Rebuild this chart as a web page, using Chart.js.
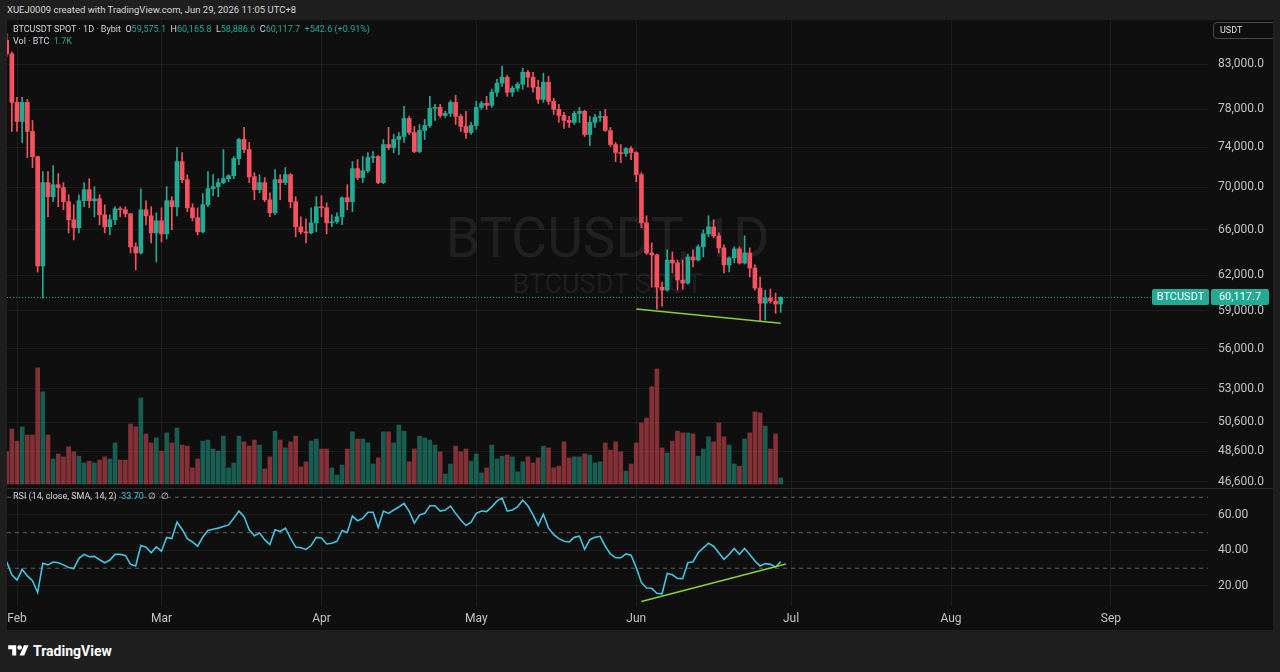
<!DOCTYPE html>
<html>
<head>
<meta charset="utf-8">
<script src="https://cdn.jsdelivr.net/npm/chart.js@4.4.1/dist/chart.umd.min.js"></script>
<style>
  body { margin:0; width:1280px; height:672px; background:#1f1f1f; overflow:hidden; position:relative; font-family:Roboto, "Noto Sans", sans-serif; }
  #hdr { position:absolute; left:7px; top:4px; font-size:9.5px; line-height:12px; color:#d8d8d8; white-space:nowrap; }
  #frame { position:absolute; left:7px; top:20px; width:1266px; height:610px; background:#0f0f0f; overflow:hidden; }
  #main { position:absolute; left:0; top:0; }
  #rsi { position:absolute; left:0; top:468px; }
  #sep { position:absolute; left:0; top:468px; width:1266px; height:1px; background:#2a2a2a; }
  .wm { position:absolute; left:0; width:1201px; text-align:center; color:rgba(255,255,255,0.075); white-space:nowrap; }
  .lg { position:absolute; left:6px; font-size:9px; line-height:12px; color:#d1d4dc; white-space:nowrap; }
  .up { color:#22ab94; }
  #unit { position:absolute; left:1206px; top:2px; width:55px; height:15px; border:1px solid #4a4a4a; border-radius:4px; font-size:9px; line-height:15px; color:#e0e0e0; padding-left:6px; box-sizing:content-box; }
  #logo { position:absolute; left:8px; top:643px; height:16px; display:flex; align-items:center; gap:4px; color:#fff; font-weight:700; font-size:14px; }
</style>
</head>
<body>
<div id="hdr">XUEJ0009 created with TradingView.com, Jun 29, 2026 11:05 UTC+8</div>
<div id="frame">
  <div class="wm" style="top:188px;font-size:55px;line-height:60px;">BTCUSDT, 1D</div>
  <div class="wm" style="top:249px;font-size:27px;line-height:30px;">BTCUSDT SPOT</div>
  <canvas id="main" width="1266" height="468"></canvas>
  <canvas id="rsi" width="1266" height="142"></canvas>
  <div id="sep"></div>
  <div class="lg" id="lg1" style="top:3px"></div>
  <div class="lg" id="lg2" style="top:15px"></div>
  <div class="lg" id="lg3" style="top:470px"></div>
  <div id="unit">USDT</div>
</div>
<div id="logo">
  <svg width="21" height="16" viewBox="0 0 36 28"><path d="M14 22H7V11H0V4h14v18z" fill="#fff"/><circle cx="20" cy="8" r="4" fill="#fff"/><path d="M28 22h-8l7.5-18h8L28 22z" fill="#fff"/></svg>
  <span>TradingView</span>
</div>
<script>
// daily candles, first bar on Jan 30
const firstDate = '2026-01-30';
const opens = [
  85800, 84200, 78730, 76680, 78730, 75630, 73040, 62790, 70460, 69100,
  70260, 69970, 68620, 66930, 66190, 68720, 69780, 68720, 68900, 67400,
  66280, 66930, 67960, 67870, 67490, 64470, 63930, 67860, 67300, 65730,
  66840, 65640, 68720, 68150, 72540, 70750, 68050, 67120, 65820, 68340,
  69870, 70070, 70460, 70850, 71140, 72840, 74790, 73760, 71040, 69780,
  70460, 68810, 67580, 70750, 70460, 71240, 68620, 66280, 65820, 65730,
  66650, 68150, 68050, 66650, 66750, 67210, 69000, 68620, 71840, 70950,
  71640, 72940, 73050, 70460, 74270, 73960, 74790, 75100, 77000, 75520,
  73550, 75730, 76260, 78080, 78190, 77320, 77540, 78730, 77220, 76150,
  75520, 76260, 78190, 78620, 78410, 79840, 80840, 81520, 79840, 80280,
  80730, 82080, 81520, 80390, 79060, 80950, 78840, 77970, 77320, 76790,
  76580, 77540, 77760, 75310, 76580, 77110, 77220, 75730, 74270, 73450,
  73350, 73860, 73450, 71240, 66650, 63930, 63760, 60980, 60730, 63310,
  63050, 61580, 61320, 63580, 63310, 64470, 65640, 66280, 65460, 64380,
  62880, 63490, 64290, 63050, 63930, 62610, 60900, 59640, 60060, 59810,
  59575.1
];
const highs = [
  86600, 84400, 79280, 79280, 79060, 76790, 73100, 71540, 71540, 72140,
  71340, 70460, 69290, 68340, 69290, 70460, 70850, 70070, 69290, 68340,
  67400, 68150, 68150, 68150, 67490, 64820, 69870, 68720, 68150, 67580,
  68050, 70070, 69100, 73960, 73450, 71240, 68430, 68050, 69390, 71540,
  71240, 70850, 73760, 71240, 73050, 74900, 76050, 74480, 71440, 71240,
  70950, 69480, 71740, 71240, 71940, 71340, 69100, 67210, 67020, 68050,
  69100, 69200, 68530, 67400, 67580, 69100, 70260, 72540, 72740, 73050,
  73450, 73550, 73150, 74790, 76050, 75310, 75520, 78300, 77220, 76150,
  76360, 76900, 79390, 78520, 78520, 77760, 78950, 79500, 77430, 77760,
  76580, 78840, 78840, 79390, 80170, 81290, 82770, 81740, 80500, 80950,
  82540, 82310, 82080, 81180, 81970, 81630, 79170, 78520, 77650, 77220,
  77760, 78190, 77860, 77220, 77430, 77760, 77970, 76050, 74480, 74270,
  73960, 74070, 73550, 71440, 67300, 64820, 63840, 61410, 64200, 64020,
  63310, 63310, 63840, 64200, 64650, 66010, 67300, 66930, 65730, 64650,
  63580, 64470, 64470, 65460, 64380, 62880, 61840, 60730, 60810, 60480,
  60165.8
];
const lows = [
  83900, 75630, 75630, 74480, 72940, 71940, 62270, 60060, 67210, 68620,
  68150, 67860, 65730, 65100, 65730, 68150, 68050, 67210, 66470, 65730,
  65550, 66470, 67210, 67210, 63930, 62440, 63840, 66470, 64820, 63140,
  64910, 65190, 66010, 67300, 70460, 67680, 66840, 65550, 65730, 68150,
  69200, 69100, 70360, 70550, 70850, 72240, 73450, 70460, 68810, 69480,
  68620, 67210, 67400, 68810, 70260, 68050, 65370, 65640, 64820, 65640,
  65820, 67210, 65640, 66280, 66600, 66470, 67860, 67680, 70750, 70460,
  71440, 72440, 70360, 70360, 73760, 73450, 73250, 74480, 75310, 73450,
  73450, 74790, 76050, 76790, 77110, 77110, 77220, 76360, 75630, 74890,
  75310, 75840, 77970, 77970, 78190, 79390, 80500, 79390, 79390, 79950,
  80170, 80390, 79840, 78620, 78730, 78520, 77430, 76580, 75940, 76050,
  76360, 76580, 75100, 74170, 76050, 76690, 75630, 74070, 72540, 72440,
  73050, 72740, 70550, 66190, 63800, 60980, 59150, 59400, 60650, 62180,
  60730, 60810, 61230, 62700, 63220, 63580, 65370, 65280, 63930, 62180,
  62270, 63050, 62960, 62960, 61840, 60730, 58170, 58260, 59640, 58820,
  58886.6
];
const closes = [
  84200, 78730, 76680, 78730, 75630, 73040, 62790, 70460, 69100, 70260,
  69970, 68620, 66930, 66190, 68720, 69780, 68720, 68900, 67400, 66280,
  66930, 67960, 67870, 67490, 64470, 63930, 67860, 67300, 65730, 66840,
  65640, 68720, 68150, 72540, 70750, 68050, 67120, 65820, 68340, 69870,
  70070, 70460, 70850, 71140, 72840, 74790, 73760, 71040, 69780, 70460,
  68810, 67580, 70750, 70460, 71240, 68620, 66280, 65820, 65730, 66650,
  68150, 68050, 66650, 66750, 67210, 69000, 68620, 71840, 70950, 71640,
  72940, 73050, 70460, 74270, 73960, 74790, 75100, 77000, 75520, 73550,
  75730, 76260, 78080, 78190, 77320, 77540, 78730, 77220, 76150, 75520,
  76260, 78190, 78620, 78410, 79840, 80840, 81520, 79840, 80280, 80730,
  82080, 81520, 80390, 79060, 80950, 78840, 77970, 77320, 76790, 76580,
  77540, 77760, 75310, 76580, 77110, 77220, 75730, 74270, 73450, 73350,
  73860, 73450, 71240, 66650, 63930, 63760, 60980, 60730, 63310, 63050,
  61580, 61320, 63580, 63310, 64470, 65640, 66280, 65460, 64380, 62880,
  63490, 64290, 63050, 63930, 62610, 60900, 59640, 60060, 59810, 59575.1,
  60117.7
];
// volume in thousand BTC
const volumes = [
  9.0, 15.4, 12.0, 16.0, 13.7, 13.7, 32.5, 25.8, 13.7, 7.0,
  8.4, 7.6, 10.4, 9.0, 7.8, 5.9, 6.4, 5.9, 6.7, 7.6,
  7.0, 11.5, 6.7, 6.7, 16.8, 16.0, 24.1, 14.0, 11.5, 12.9,
  9.2, 14.3, 11.5, 15.7, 10.9, 10.6, 4.5, 7.0, 12.0, 12.3,
  9.8, 9.2, 13.4, 4.5, 5.9, 13.4, 11.8, 10.6, 12.3, 10.9,
  4.2, 7.6, 14.8, 12.3, 10.1, 11.8, 13.4, 4.8, 6.2, 12.0,
  12.6, 9.8, 9.8, 4.5, 2.5, 5.3, 9.8, 14.6, 12.6, 12.6,
  11.5, 5.6, 7.3, 14.6, 14.6, 11.5, 16.5, 14.8, 6.2, 9.8,
  13.4, 12.9, 12.3, 10.9, 9.0, 2.8, 5.6, 10.6, 9.0, 9.8,
  6.4, 8.4, 3.1, 4.5, 10.9, 7.0, 7.8, 8.1, 7.6, 3.4,
  6.2, 7.6, 5.9, 7.3, 10.6, 10.1, 4.5, 5.0, 11.8, 7.3,
  7.6, 7.6, 8.4, 8.1, 5.9, 6.2, 11.5, 9.5, 11.8, 9.0,
  3.6, 5.6, 11.5, 17.1, 18.5, 27.2, 32.2, 10.1, 8.7, 12.0,
  14.8, 14.3, 14.3, 14.0, 7.8, 9.8, 13.2, 11.8, 17.1, 13.2,
  10.9, 5.6, 5.0, 12.6, 14.3, 20.2, 19.9, 16.2, 9.8, 14.0,
  1.7
];
const rsiValues = [
  33.7, 26.3, 23.3, 29.4, 25.7, 23.0, 16.3, 32.8, 31.9, 33.5,
  33.1, 31.9, 30.4, 29.8, 35.6, 37.8, 36.5, 36.7, 34.8, 33.1,
  34.6, 37.8, 37.8, 37.2, 32.2, 31.3, 42.8, 41.9, 38.7, 42.0,
  39.6, 47.4, 46.7, 55.9, 52.0, 46.7, 44.8, 42.4, 47.6, 51.3,
  52.0, 52.6, 53.5, 54.4, 58.1, 62.2, 59.1, 51.7, 48.3, 49.8,
  46.1, 43.3, 51.7, 50.7, 52.6, 47.0, 41.9, 41.5, 40.6, 42.8,
  47.4, 47.0, 43.7, 44.1, 45.2, 51.3, 50.2, 59.4, 56.7, 58.1,
  61.5, 61.5, 53.0, 62.2, 60.9, 62.8, 64.5, 66.5, 62.0, 55.4,
  60.0, 60.9, 65.2, 65.2, 62.2, 62.8, 65.0, 60.9, 57.2, 54.1,
  55.9, 60.9, 62.2, 61.9, 64.6, 67.8, 69.6, 62.2, 62.8, 64.6,
  68.3, 65.2, 60.0, 54.1, 60.4, 52.6, 48.9, 46.7, 45.2, 44.8,
  47.4, 48.0, 40.6, 46.1, 47.4, 48.0, 42.4, 38.1, 35.9, 35.9,
  38.1, 37.4, 30.4, 22.0, 18.9, 18.7, 15.9, 15.6, 27.0, 26.3,
  24.3, 24.1, 33.1, 33.7, 38.7, 41.5, 44.1, 42.4, 38.7, 35.0,
  37.8, 41.1, 37.8, 41.1, 37.8, 34.1, 31.3, 32.6, 32.2, 30.7,
  33.7
];

const priceTicks = [46600, 48600, 50600, 53000, 56000, 59000, 62000, 66000, 70000, 74000, 78000, 83000];
const rsiTicks = [20, 40, 60];
const rsiLevels = [70, 50, 30];
const monthDates = ['2026-02-01', '2026-03-01', '2026-04-01', '2026-05-01', '2026-06-01', '2026-07-01', '2026-08-01', '2026-09-01'];
const monthLabels = ['Feb', 'Mar', 'Apr', 'May', 'Jun', 'Jul', 'Aug', 'Sep'];

// hand-drawn trend lines
const priceTrendDates = ['2026-06-01', '2026-06-29'];
const priceTrendValues = [59170, 58010];
const rsiTrendDates = ['2026-06-02', '2026-06-30'];
const rsiTrendValues = [11.3, 32.4];

const origin = Date.parse('2026-02-01');
const dayOf = s => (Date.parse(s) - origin) / 864e5;
const start = dayOf(firstDate);
const days = closes.map((_, i) => start + i);

const upColor = '#22ab94', downColor = '#f7525f', trendColor = '#86d13c', rsiColor = '#45c3df';
const gridColor = 'rgba(255,255,255,0.055)', axisText = '#c4c4c4';
const fontFamily = 'Roboto, "Noto Sans", sans-serif';
const xMin = -1.94, xMax = 230.8;

const isUp = closes.map((c, i) => c >= opens[i]);
const candleColors = isUp.map(u => u ? upColor : downColor);
const volColors = isUp.map(u => u ? 'rgba(34,171,148,0.5)' : 'rgba(247,82,95,0.5)');
const n = closes.length - 1;
const last = closes[n];
const fmt1 = v => v.toLocaleString('en-US', { minimumFractionDigits: 1, maximumFractionDigits: 1 });

// legends
const chg = last - closes[n - 1];
document.getElementById('lg1').innerHTML =
  'BTCUSDT SPOT · 1D · Bybit&nbsp;&nbsp;O<span class="up">' + fmt1(opens[n]) + '</span>&nbsp;&nbsp;H<span class="up">' + fmt1(highs[n]) +
  '</span>&nbsp;&nbsp;L<span class="up">' + fmt1(lows[n]) + '</span>&nbsp;&nbsp;C<span class="up">' + fmt1(last) +
  '</span>&nbsp;&nbsp;<span class="up">+' + fmt1(chg) + ' (+' + (chg / closes[n - 1] * 100).toFixed(2) + '%)</span>';
document.getElementById('lg2').innerHTML = 'Vol · BTC&nbsp;&nbsp;<span class="up">' + volumes[n].toFixed(1) + 'K</span>';
document.getElementById('lg3').innerHTML = 'RSI (14, close, SMA, 14, 2)&nbsp;&nbsp;<span style="color:' + rsiColor + '">' + rsiValues[n].toFixed(2) + '</span>&nbsp;&nbsp;∅&nbsp;&nbsp;∅';

const monthTicks = s => { s.ticks = monthDates.map(d => ({ value: dayOf(d) })); };

// price tag on the right axis
const lastPriceTag = {
  id: 'lastPriceTag',
  afterDraw(chart) {
    const { ctx, scales } = chart;
    const y = Math.round(scales.y.getPixelForValue(last));
    ctx.save();
    ctx.fillStyle = upColor;
    ctx.beginPath(); ctx.roundRect(1145, y - 8, 57, 16, 2); ctx.fill();
    ctx.beginPath(); ctx.roundRect(1204, y - 8, 58, 16, 2); ctx.fill();
    ctx.fillStyle = '#ffffff';
    ctx.font = '11px ' + fontFamily;
    ctx.textAlign = 'center';
    ctx.textBaseline = 'middle';
    ctx.fillText('BTCUSDT', 1173.5, y + 0.5);
    ctx.fillText(fmt1(last), 1233, y + 0.5);
    ctx.restore();
  }
};

new Chart(document.getElementById('main'), {
  type: 'bar',
  data: {
    datasets: [
      { type: 'line', data: priceTrendDates.map((d, i) => ({ x: dayOf(d), y: priceTrendValues[i] })), borderColor: trendColor, borderWidth: 1.5, pointRadius: 0, yAxisID: 'y', order: 0 },
      { data: days.map((d, i) => ({ x: d, y: [opens[i], closes[i]] })), backgroundColor: candleColors, barThickness: 4, minBarLength: 1, grouped: false, yAxisID: 'y', order: 1 },
      { data: days.map((d, i) => ({ x: d, y: [lows[i], highs[i]] })), backgroundColor: candleColors, barThickness: 1, grouped: false, yAxisID: 'y', order: 2 },
      { type: 'line', data: [{ x: xMin, y: last }, { x: xMax, y: last }], borderColor: upColor, borderDash: [1, 2], borderWidth: 1, pointRadius: 0, yAxisID: 'y', order: 3 },
      { data: days.map((d, i) => ({ x: d, y: volumes[i] })), backgroundColor: volColors, barThickness: 4, grouped: false, yAxisID: 'yv', order: 4 }
    ]
  },
  options: {
    responsive: false,
    animation: false,
    events: [],
    layout: { padding: 0 },
    plugins: { legend: { display: false }, tooltip: { enabled: false } },
    scales: {
      x: {
        type: 'linear', min: xMin, max: xMax, bounds: 'data', offset: false,
        grid: { color: gridColor, drawTicks: false, offset: false },
        border: { display: false },
        ticks: { display: false },
        afterBuildTicks: monthTicks,
        afterFit: s => { s.height = 0; s.paddingLeft = 0; s.paddingRight = 0; }
      },
      y: {
        type: 'logarithmic', position: 'right', min: 46190, max: 88230, bounds: 'data',
        grid: { color: gridColor, drawTicks: false },
        border: { display: false },
        ticks: { color: axisText, font: { family: fontFamily, size: 12 }, padding: 10, callback: v => fmt1(v) },
        afterBuildTicks: s => { s.ticks = priceTicks.map(v => ({ value: v })); },
        afterFit: s => { s.width = 65; s.paddingTop = 0; s.paddingBottom = 0; }
      },
      yv: { type: 'linear', display: false, min: -1.12, max: 129.9 }
    }
  },
  plugins: [lastPriceTag]
});

new Chart(document.getElementById('rsi'), {
  type: 'line',
  data: {
    datasets: [
      { data: rsiTrendDates.map((d, i) => ({ x: dayOf(d), y: rsiTrendValues[i] })), borderColor: trendColor, borderWidth: 1.5, pointRadius: 0, order: 0 },
      { data: days.map((d, i) => ({ x: d, y: rsiValues[i] })), borderColor: rsiColor, borderWidth: 1.6, pointRadius: 0, order: 1 },
      ...rsiLevels.map(lv => ({ data: [{ x: xMin, y: lv }, { x: xMax, y: lv }], borderColor: 'rgba(150,150,150,0.6)', borderDash: [4, 4], borderWidth: 1, pointRadius: 0, order: 2 }))
    ]
  },
  options: {
    responsive: false,
    animation: false,
    events: [],
    layout: { padding: 0 },
    plugins: { legend: { display: false }, tooltip: { enabled: false } },
    scales: {
      x: {
        type: 'linear', min: xMin, max: xMax, bounds: 'data',
        grid: { color: gridColor, drawTicks: false },
        border: { display: false },
        ticks: { color: axisText, font: { family: fontFamily, size: 12 }, padding: 6, autoSkip: false, maxRotation: 0, callback: (v, i) => monthLabels[i] },
        afterBuildTicks: monthTicks,
        afterFit: s => { s.height = 24; s.paddingLeft = 0; s.paddingRight = 0; }
      },
      y: {
        position: 'right', min: 8.73, max: 75.2, bounds: 'data',
        grid: { color: gridColor, drawTicks: false },
        border: { display: false },
        ticks: { color: axisText, font: { family: fontFamily, size: 12 }, padding: 10, callback: v => v.toFixed(2) },
        afterBuildTicks: s => { s.ticks = rsiTicks.map(v => ({ value: v })); },
        afterFit: s => { s.width = 65; s.paddingTop = 0; s.paddingBottom = 0; }
      }
    }
  }
});
</script>
</body>
</html>
